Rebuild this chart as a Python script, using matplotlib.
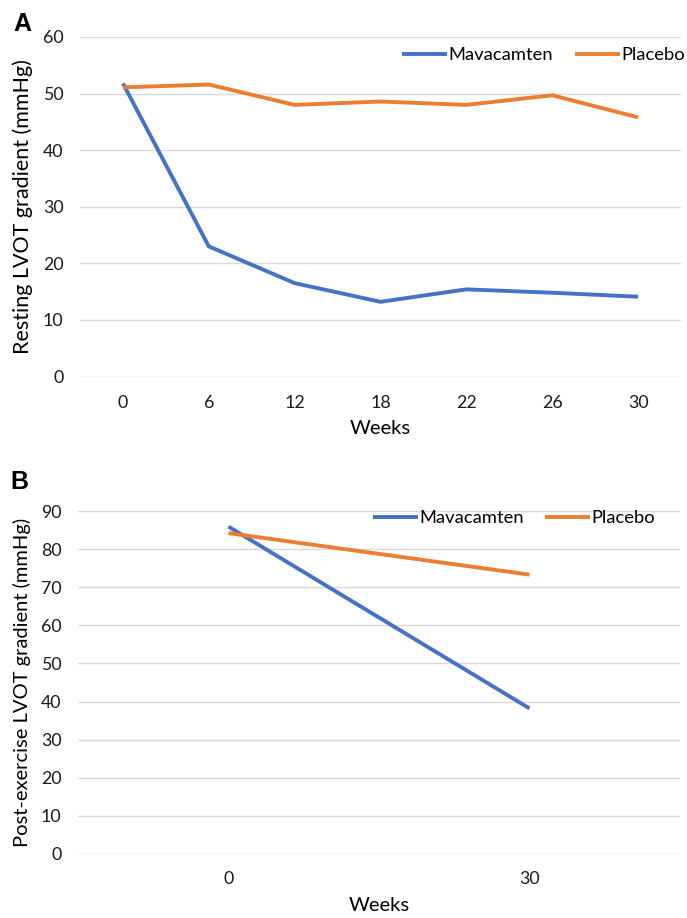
import matplotlib.pyplot as plt

# Data
weeks_a = ['0', '6', '12', '18', '22', '26', '30']
mava_a = [51.8, 23.0, 16.5, 13.2, 15.4, 14.8, 14.1]
placebo_a = [51.1, 51.6, 48.0, 48.6, 48.0, 49.7, 45.8]

weeks_b = ['0', '30']
mava_b = [85.9, 38.2]
placebo_b = [84.2, 73.3]

BLUE = '#4472C4'
ORANGE = '#ED7D31'
GRID = '#D9D9D9'

plt.rcParams['font.family'] = ['Lato', 'DejaVu Sans']

W, H = 687, 918
fig = plt.figure(figsize=(W / 100, H / 100), dpi=100)


def px_axes(left, top, right, bottom):
    return fig.add_axes([left / W, 1 - bottom / H, (right - left) / W, (bottom - top) / H])


def style_axes(ax):
    for s in ax.spines.values():
        s.set_visible(False)
    ax.yaxis.grid(True, color=GRID, linewidth=1.0)
    ax.set_axisbelow(True)
    ax.tick_params(axis='both', length=0, labelsize=12.8, colors='#1a1a1a')
    ax.tick_params(axis='y', pad=12)


def add_legend(ax, x_px, y_px, colspace):
    ax.legend(loc='center left', bbox_to_anchor=(x_px / W, 1 - y_px / H),
              bbox_transform=fig.transFigure, ncol=2, frameon=False,
              fontsize=13.2, handlelength=2.45, handletextpad=0.08,
              columnspacing=colspace, borderpad=0, borderaxespad=0)


# Panel A
ax1 = px_axes(80, 37, 681, 376.5)
xa = list(range(len(weeks_a)))
ax1.plot(xa, mava_a, color=BLUE, linewidth=2.8, label='Mavacamten', solid_capstyle='butt')
ax1.plot(xa, placebo_a, color=ORANGE, linewidth=2.8, label='Placebo', solid_capstyle='butt')
ax1.set_xlim(-0.5, 6.5)
ax1.set_ylim(0, 60)
ax1.set_yticks(range(0, 61, 10))
ax1.set_xticks(xa)
ax1.set_xticklabels(weeks_a)
style_axes(ax1)
ax1.tick_params(axis='x', pad=13)
ax1.set_xlabel('Weeks', fontsize=14.5, labelpad=7)
ax1.set_ylabel('Resting LVOT gradient (mmHg)', fontsize=15.5, labelpad=7)
add_legend(ax1, 402, 55, 1.2)

# Panel B
ax2 = px_axes(78, 511, 680, 854)
xb = list(range(len(weeks_b)))
ax2.plot(xb, mava_b, color=BLUE, linewidth=2.8, label='Mavacamten', solid_capstyle='butt')
ax2.plot(xb, placebo_b, color=ORANGE, linewidth=2.8, label='Placebo', solid_capstyle='butt')
ax2.set_xlim(-0.5, 1.5)
ax2.set_ylim(0, 90)
ax2.set_yticks(range(0, 91, 10))
ax2.set_xticks(xb)
ax2.set_xticklabels(weeks_b)
style_axes(ax2)
ax2.tick_params(axis='x', pad=12.5)
ax2.set_xlabel('Weeks', fontsize=14.5, labelpad=7)
ax2.set_ylabel('Post-exercise LVOT gradient (mmHg)', fontsize=14.5, labelpad=7)
add_legend(ax2, 373, 518, 1.15)

fig.text(13 / W, 1 - 24 / H, 'A', fontsize=18, fontweight='bold', va='center',
         family=['Liberation Sans', 'DejaVu Sans'])
fig.text(10 / W, 1 - 482 / H, 'B', fontsize=18, fontweight='bold', va='center',
         family=['Liberation Sans', 'DejaVu Sans'])

fig.savefig('out.png', dpi=100, facecolor='white')
